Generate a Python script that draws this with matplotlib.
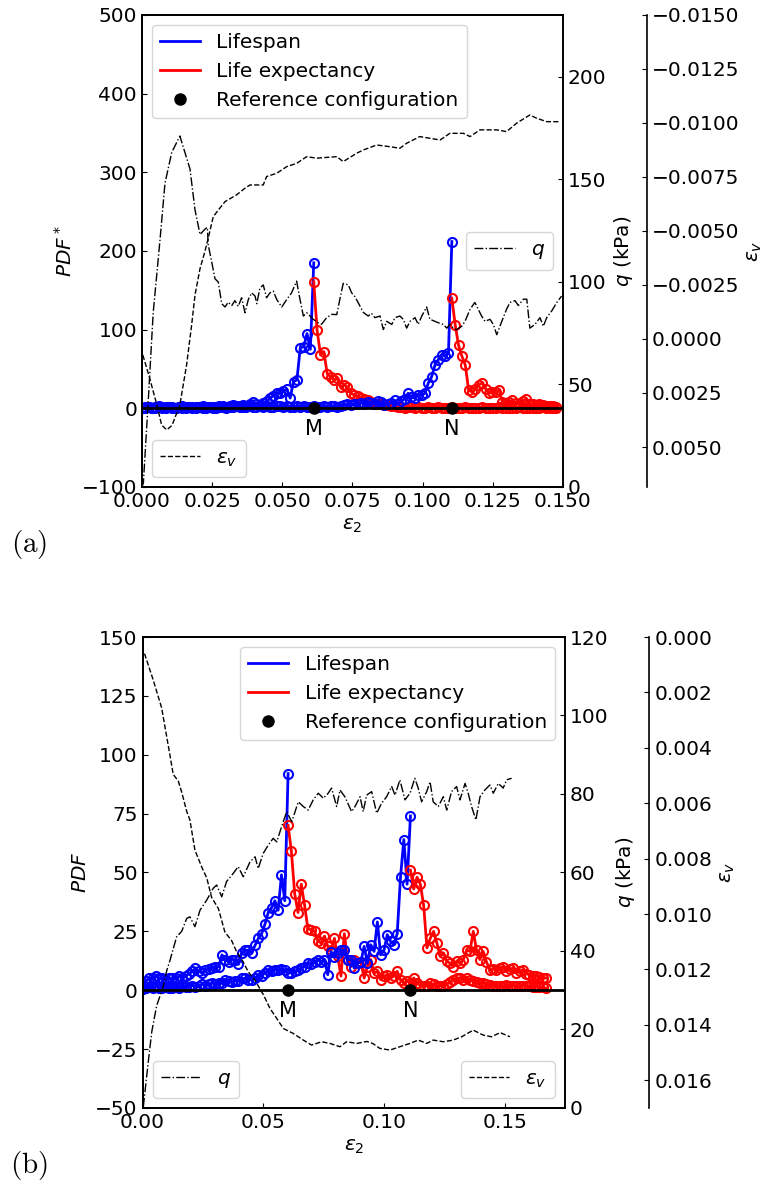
import numpy as np
import matplotlib
matplotlib.use('Agg')
import matplotlib.pyplot as plt
from matplotlib.lines import Line2D

plt.rcParams['font.size'] = 14.5
plt.rcParams['axes.linewidth'] = 1.2
plt.rcParams['xtick.direction'] = 'in'
plt.rcParams['ytick.direction'] = 'in'

# ---------------- panel (a) ----------------
step_a = 0.0012          # strain increment between PDF samples
n_a = 124
iM_a, iN_a = 51, 92      # sample index of reference configs M and N

life_M_a = [1, 2, 2, 1, 2, 3, 2, 1, 2, 2, 1, 2, 3, 2, 2, 1, 2, 2, 3, 2, 2, 1, 2, 3, 3, 2, 3, 4, 3, 3, 4, 3, 5,
            8, 6, 4, 7, 9, 13, 16, 19, 20, 22, 24, 13, 34, 36, 77, 78, 95, 75, 185]
life_N_a = [1, 1, 2, 1, 1, 2, 1, 2, 2, 1, 1, 2, 1, 1, 2, 2, 1, 2, 1, 1, 2, 2, 1, 2, 2, 1, 2, 2, 3, 2,
            2, 2, 3, 2, 2, 3, 2, 3, 2, 2, 3, 3, 2, 3, 2, 2, 3, 2, 3, 2, 2, 3, 2, 2, 3, 2, 3, 3, 2, 3,
            4, 5, 4, 6, 5, 7, 6, 8, 7, 6, 9, 8,
            4, 5, 7, 10, 6, 9, 12, 19, 14, 13, 17, 17, 19, 32, 40, 55, 62, 68, 66, 70, 212]
exp_M_a = [161, 99, 68, 72, 44, 40, 36, 38, 27, 30, 27, 19, 17, 15, 13, 12, 10, 8, 7, 6, 5, 4, 4, 3, 3, 2,
           2, 1, 2, 2, 1, 2, 1, 1, 2, 1, 1, 2, 1, 1, 1, 2, 1, 1, 1, 2, 1, 1, 1, 1, 2, 1, 1, 1, 1, 2,
           1, 1, 1, 1, 1, 2, 1, 1, 1, 1, 1, 1, 2, 1, 1, 1, 1]
exp_N_a = [140, 106, 80, 66, 55, 23, 21, 25, 30, 32, 25, 19, 21, 21, 23, 8, 7, 8, 10, 7, 6, 9, 12, 6,
           5, 4, 5, 4, 3, 3, 3, 2]

q_eps_a = [0.0, 0.0005, 0.0022, 0.004, 0.0064, 0.0082, 0.0106, 0.0135, 0.0153, 0.0171, 0.0189, 0.0207,
           0.0224, 0.0233, 0.0236, 0.0248, 0.026, 0.0272, 0.0284, 0.0296, 0.0307, 0.032, 0.0331, 0.0343,
           0.0355, 0.0367, 0.0379, 0.0391, 0.0403, 0.0409, 0.042, 0.0432, 0.0444, 0.0456, 0.0468, 0.048,
           0.0498, 0.0516, 0.0533, 0.0551, 0.0563, 0.0575, 0.0587, 0.0599, 0.061, 0.0628, 0.064, 0.0658,
           0.0676, 0.0694, 0.0705, 0.0717, 0.0735, 0.0747, 0.0759, 0.0789, 0.0806, 0.0818, 0.083, 0.0848,
           0.086, 0.0872, 0.089, 0.0901, 0.0919, 0.0931, 0.0943, 0.0955, 0.0973, 0.0984, 0.0997, 0.1014,
           0.1026, 0.1044, 0.1056, 0.1074, 0.1086, 0.1097, 0.1109, 0.1121, 0.1139, 0.1151, 0.1169, 0.1186,
           0.1198, 0.121, 0.1222, 0.124, 0.1252, 0.1264, 0.1282, 0.1299, 0.1311, 0.1329, 0.1341, 0.1359,
           0.1371, 0.1382, 0.14, 0.1418, 0.143, 0.1442, 0.146, 0.1478, 0.1495]
q_a = [0, 2, 41, 85, 120, 148, 163, 171, 163, 155, 135, 123,
       125.6, 126.5, 118, 110, 101.5, 99.8, 89.3, 87.7, 90, 88.4, 90.8, 88,
       92.2, 84.9, 91.4, 94.6, 93, 89.3, 96.8, 98.5, 92.2, 94.6, 95.4, 91.4,
       87.7, 91.4, 94.6, 100.3, 91.4, 83.3, 84.9, 83.3, 81.7, 80, 79.3, 82.5,
       84.1, 84, 91.4, 99.2, 98.5, 94.6, 92.7, 85, 83.3, 84.6, 82.5, 83.3,
       76.7, 80.7, 79.2, 82.5, 83.3, 81.7, 77.4, 80.7, 82.5, 79.2, 83.3, 87.7,
       81.7, 80.7, 80, 79.2, 77.4, 79.2, 77.5, 76.6, 78.3, 80.7, 86.6, 89.9,
       86.6, 83.3, 80.7, 81.7, 79.2, 74.2, 80.7, 86.6, 89.9, 90.8, 88.4, 91.5,
       91.5, 77.4, 79.2, 82.5, 78.3, 82.5, 85.8, 89.9, 93]

ev_eps_a = [0.0003, 0.0025, 0.005, 0.007, 0.0088, 0.0107, 0.0135, 0.0159, 0.0177, 0.0189, 0.0207, 0.0224,
            0.0236, 0.0242, 0.0254, 0.0272, 0.0296, 0.0337, 0.0367, 0.0385, 0.0432, 0.0444, 0.048, 0.0516,
            0.0551, 0.0587, 0.0622, 0.0694, 0.0717, 0.0765, 0.0789, 0.0836, 0.0884, 0.0919, 0.0943, 0.099,
            0.1026, 0.1062, 0.1097, 0.1145, 0.1169, 0.1204, 0.1264, 0.1299, 0.1335, 0.1382, 0.1406, 0.1442,
            0.1489]
ev_a = [0.00074, 0.0017, 0.0029, 0.00398, 0.00421, 0.0040, 0.00305, 0.0012, -0.00065, -0.00204, -0.00327,
        -0.00404, -0.00466, -0.0050, -0.00566, -0.00597, -0.00636, -0.00667, -0.00698, -0.00713, -0.00713,
        -0.00752, -0.00767, -0.00798, -0.00813, -0.00844, -0.00837, -0.00844, -0.00821, -0.0086, -0.00875,
        -0.00898, -0.0089, -0.00883, -0.00906, -0.00937, -0.00929, -0.00921, -0.00952, -0.00952, -0.00937,
        -0.00968, -0.00968, -0.0096, -0.00999, -0.01037, -0.01022, -0.01006, -0.01006]

# ---------------- panel (b) ----------------
step_b = 0.00137
n_b = 123
iM_b, iN_b = 44, 81

life_M_b = [2, 4, 5, 5, 6, 5, 5, 4.5, 5, 5, 5, 6, 5, 6, 7, 8, 9.5, 8, 7.3, 8.7, 9, 9.4, 10, 10, 15,
            13, 12, 13, 13, 11, 16, 17, 17, 16, 19, 22, 24, 28, 33, 35, 38, 34, 49, 38, 92]
life_N_b = [0.5, 1, 1.5, 1, 1.5, 1, 1, 1.5, 1, 1, 1.5, 1, 2, 1.5, 1.5, 2, 1.5, 2, 2.5, 2,
            2.5, 3, 2.5, 3, 3, 4.5, 4, 3.5, 4, 4, 5, 5, 4.5, 4.5, 5, 6.5, 6, 7.5, 8.5, 8,
            8.7, 8.5, 9, 8.7,
            7.3, 7.5, 8, 8.5, 9.4, 10, 11.5, 11, 12, 13, 12, 13, 6.6, 16.4, 14, 16, 17, 17, 13, 13,
            9.4, 11.5, 12, 18.6, 11.5, 19.3, 16.5, 29, 15, 17, 23.6, 20.7, 19.3, 24, 48, 64, 45, 74]
exp_M_b = [70, 59, 41, 33, 45, 36, 26, 25.7, 25, 21, 20, 23, 18.6, 17, 22, 14.4, 6, 24, 13, 10,
           13, 11.5, 12, 5.2, 10, 13, 7.3, 8, 4.5, 5.9, 6.6, 5.2, 6, 8, 4.5, 3, 4, 3, 5.2, 3,
           2, 1.6, 2, 3, 2.5, 1.6, 2, 1.6, 2.5, 3.7, 4.5, 5.2, 5.2, 4.5, 5.2, 4.5, 4, 3.5, 3, 3,
           2.5, 2.3, 2, 2, 1.6, 1.6, 2.3, 2, 2, 1.6, 1.8, 2, 1.6, 1.6, 1.5, 1.5, 1.2, 1.2, 0.9]
exp_N_b = [51, 43, 48, 45, 36, 18, 22, 25, 20, 14.4, 15.8, 12.2, 11.5, 10, 12.2, 11.5, 13, 17, 16.5, 25,
           17, 13, 16.5, 12, 8.7, 9, 8.7, 9.5, 10, 8, 9, 9.4, 7.3, 8, 8.7, 7, 6.6, 6, 6, 5.5, 5.2, 5.2]

q_eps_b = [0.0003, 0.0024, 0.0038, 0.0058, 0.0086, 0.01, 0.0114, 0.0141, 0.0162, 0.0183, 0.0196, 0.0217,
           0.0238, 0.0266, 0.0293, 0.0307, 0.0328, 0.0348, 0.0376, 0.0396, 0.0417, 0.0445, 0.0466, 0.0479,
           0.05, 0.0521, 0.0541, 0.0556, 0.0576, 0.0597, 0.0618, 0.0645, 0.0666, 0.0686, 0.0707, 0.0728,
           0.0749, 0.0769, 0.0783, 0.0804, 0.0818, 0.0838, 0.0866, 0.088, 0.0901, 0.0914, 0.0928, 0.0949,
           0.097, 0.099, 0.1011, 0.1032, 0.1046, 0.1066, 0.1087, 0.1108, 0.1128, 0.1142, 0.1156, 0.1177,
           0.1191, 0.1204, 0.1225, 0.1246, 0.126, 0.128, 0.1301, 0.1315, 0.1336, 0.1349, 0.1363, 0.1381,
           0.1398, 0.1418, 0.1439, 0.1453, 0.1474, 0.1494, 0.1508, 0.1529]
q_b = [0.3, 12, 19.4, 26, 31, 35, 37.7, 43.6, 45, 48.3, 48.7, 46.2,
       50.4, 53, 56, 56.8, 53.8, 57.7, 59.8, 61.5, 58.9, 62.7, 64, 61,
       64.9, 67, 68.7, 67.8, 71.7, 75.5, 72.9, 78, 76.8, 75.9, 78.5, 80.2,
       78.9, 80.2, 81.5, 76.8, 81, 79.3, 75.5, 76.8, 79.3, 75.5, 79.7, 80.6,
       75.1, 77.6, 79.3, 81.9, 79.7, 83.6, 78.5, 80.2, 84, 81.5, 78, 80.6,
       83.1, 78, 76.8, 79.3, 75.9, 80.6, 81.9, 78.5, 82.7, 80.2, 76.8, 73.4,
       79.3, 81, 82.3, 80.2, 82.7, 81.5, 83.6, 84]

ev_eps_b = [0.0008, 0.0044, 0.0079, 0.0114, 0.0127, 0.0148, 0.0162, 0.0183, 0.0196, 0.0217, 0.0245, 0.0266,
            0.0286, 0.0314, 0.0341, 0.0369, 0.039, 0.0417, 0.0438, 0.0466, 0.0493, 0.05, 0.0528, 0.0556,
            0.0583, 0.0624, 0.0666, 0.07, 0.0742, 0.0776, 0.0818, 0.0845, 0.0887, 0.093, 0.0955, 0.0983,
            0.1025, 0.1066, 0.1108, 0.1142, 0.1177, 0.1204, 0.1246, 0.1287, 0.1322, 0.137, 0.1411, 0.1446,
            0.1481, 0.1522]
ev_b = [0.0006, 0.00155, 0.00256, 0.0043, 0.00496, 0.0052, 0.0056, 0.0063, 0.0066, 0.0077, 0.0083, 0.0087,
        0.0094, 0.0098, 0.01065, 0.01096, 0.01137, 0.01173, 0.01209, 0.01239, 0.01281, 0.0129, 0.01341, 0.01377,
        0.01413, 0.01431, 0.01455, 0.01473, 0.01461, 0.01467, 0.01479, 0.01461, 0.01467, 0.0146, 0.01468, 0.01485,
        0.01491, 0.01479, 0.01467, 0.01455, 0.01467, 0.01455, 0.01461, 0.01455, 0.01443, 0.01419, 0.01437, 0.01443,
        0.01428, 0.01443]


def series(ax, eps, start, vals, color):
    x = eps[start:start + len(vals)]
    ax.plot(x, vals, color=color, lw=2, marker='o', ms=6.5, mfc='none', mew=1.5)


def panel(ax, step, n, iM, iN, lifeM, expM, lifeN, expN, qx, qy, evx, evy,
          xlim, ylim, yticks, xticks, qlim, qticks, evlim, evticks, pdf_label, leg_locs):
    eps = np.arange(n) * step
    series(ax, eps, 0, lifeM, 'blue')
    series(ax, eps, iM, expM, 'red')
    series(ax, eps, 0, lifeN, 'blue')
    series(ax, eps, iN, expN, 'red')
    ax.axhline(0, color='k', lw=2, zorder=3)
    ref = [eps[iM], eps[iN]]
    ax.plot(ref, [0, 0], 'ko', ms=8, zorder=5)
    for xr, name in zip(ref, ['M', 'N']):
        ax.annotate(name, (xr, 0), xytext=(0, -8), textcoords='offset points',
                    ha='center', va='top', fontsize=15)
    ax.set_xlim(*xlim)
    ax.set_ylim(*ylim)
    ax.set_yticks(yticks)
    ax.set_xticks(xticks)
    ax.set_xlabel(r'$\varepsilon_2$')
    ax.set_ylabel(pdf_label)

    axq = ax.twinx()
    lq, = axq.plot(qx, qy, color='k', ls='-.', lw=1.0)
    axq.set_ylim(*qlim)
    axq.set_yticks(qticks)
    axq.set_ylabel(r'$q$ (kPa)')

    axe = ax.twinx()
    axe.spines['right'].set_position(('axes', 1.2))
    le, = axe.plot(evx, evy, color='k', ls='--', lw=1.0)
    axe.set_ylim(*evlim)
    axe.set_yticks(evticks)
    axe.set_ylabel(r'$\varepsilon_v$')

    main_handles = [Line2D([], [], color='blue', lw=2, label='Lifespan'),
                    Line2D([], [], color='red', lw=2, label='Life expectancy'),
                    Line2D([], [], color='k', marker='o', ls='none', ms=8, label='Reference configuration')]
    leg1 = axe.legend(handles=main_handles, loc=leg_locs[0])
    axe.add_artist(leg1)
    leg2 = axe.legend(handles=[lq], labels=[r'$q$'], loc=leg_locs[1])
    axe.add_artist(leg2)
    axe.legend(handles=[le], labels=[r'$\varepsilon_v$'], loc=leg_locs[2])


fig = plt.figure(figsize=(7.67, 11.86), dpi=100)
ax_a = fig.add_axes([0.1851, 0.5894, 0.5489, 0.3980])
ax_b = fig.add_axes([0.1859, 0.0658, 0.5507, 0.3971])

panel(ax_a, step_a, n_a, iM_a, iN_a, life_M_a, exp_M_a, life_N_a, exp_N_a,
      q_eps_a, q_a, ev_eps_a, ev_a,
      (0, 0.15), (-100, 500), np.arange(-100, 501, 100), np.arange(0, 0.1501, 0.025),
      (0, 230), [0, 50, 100, 150, 200], (0.00685, -0.015),
      [-0.015, -0.0125, -0.01, -0.0075, -0.005, -0.0025, 0.0, 0.0025, 0.005],
      r'$PDF^*$', ['upper left', 'center right', 'lower left'])

panel(ax_b, step_b, n_b, iM_b, iN_b, life_M_b, exp_M_b, life_N_b, exp_N_b,
      q_eps_b, q_b, ev_eps_b, ev_b,
      (0, 0.175), (-50, 150), np.arange(-50, 151, 25), [0, 0.05, 0.10, 0.15],
      (0, 120), np.arange(0, 121, 20), (0.017, 0.0), np.arange(0, 0.0161, 0.002),
      r'$PDF$', ['upper right', 'lower left', 'lower right'])

fig.text(0.038, 0.5405, r'$\mathrm{(a)}$', math_fontfamily='cm', fontsize=21, ha='center', va='center')
fig.text(0.038, 0.0177, r'$\mathrm{(b)}$', math_fontfamily='cm', fontsize=21, ha='center', va='center')

fig.savefig('out.png', dpi=100)
